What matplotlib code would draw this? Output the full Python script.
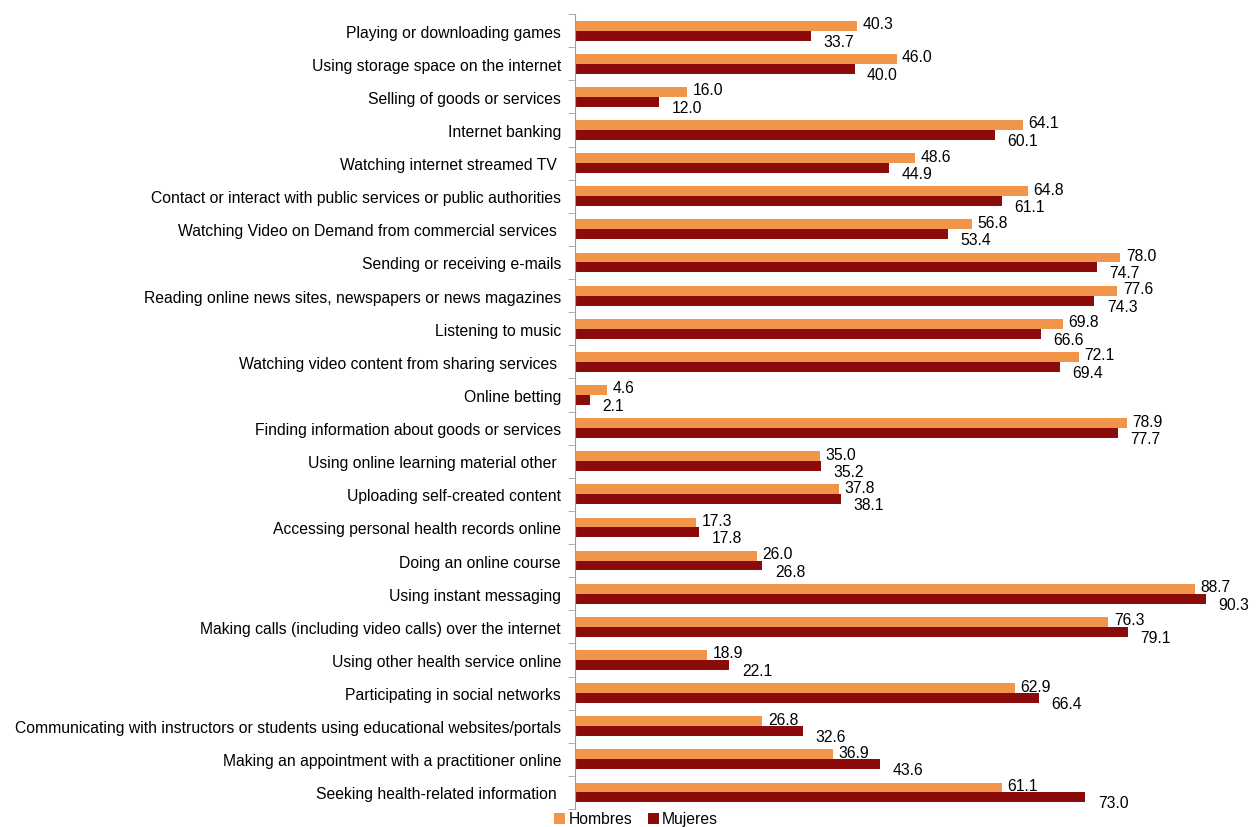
import numpy as np
import matplotlib.pyplot as plt

plt.rcParams['font.family'] = ['Liberation Sans', 'DejaVu Sans']

categories = [
    "Playing or downloading games",
    "Using storage space on the internet",
    "Selling of goods or services",
    "Internet banking",
    "Watching internet streamed TV ",
    "Contact or interact with public services or public authorities",
    "Watching Video on Demand from commercial services ",
    "Sending or receiving e-mails",
    "Reading online news sites, newspapers or news magazines",
    "Listening to music",
    "Watching video content from sharing services ",
    "Online betting",
    "Finding information about goods or services",
    "Using online learning material other ",
    "Uploading self-created content",
    "Accessing personal health records online",
    "Doing an online course",
    "Using instant messaging",
    "Making calls (including video calls) over the internet",
    "Using other health service online",
    "Participating in social networks",
    "Communicating with instructors or students using educational websites/portals",
    "Making an appointment with a practitioner online",
    "Seeking health-related information ",
]
hombres = [40.3, 46.0, 16.0, 64.1, 48.6, 64.8, 56.8, 78.0, 77.6, 69.8, 72.1, 4.6,
           78.9, 35.0, 37.8, 17.3, 26.0, 88.7, 76.3, 18.9, 62.9, 26.8, 36.9, 61.1]
mujeres = [33.7, 40.0, 12.0, 60.1, 44.9, 61.1, 53.4, 74.7, 74.3, 66.6, 69.4, 2.1,
           77.7, 35.2, 38.1, 17.8, 26.8, 90.3, 79.1, 22.1, 66.4, 32.6, 43.6, 73.0]

c_h = '#F0954A'
c_m = '#8B0A0A'
fs = 11.3

fig = plt.figure(figsize=(12.58, 8.28), dpi=100)
ax = fig.add_axes([575/1258, 1 - 810/828, 1 - 575/1258, 795/828])

y = np.arange(len(categories))
h = 0.3
ax.barh(y - h/2, hombres, height=h, color=c_h, label='Hombres')
ax.barh(y + h/2, mujeres, height=h, color=c_m, label='Mujeres')

for i in range(len(categories)):
    ax.annotate(f"{hombres[i]:.1f}", (hombres[i], y[i] - h/2), xytext=(4, 1.5),
                textcoords='offset points', ha='left', va='center', fontsize=fs)
    ax.annotate(f"{mujeres[i]:.1f}", (mujeres[i], y[i] + h/2), xytext=(9, -4),
                textcoords='offset points', ha='left', va='center', fontsize=fs)

ax.set_ylim(len(categories) - 0.5, -0.5)
ax.set_xlim(0, 683/6.99)
ax.set_yticks(y)
ax.set_yticklabels(categories, fontsize=fs)
ax.set_yticks(np.arange(-0.5, len(categories)), minor=True)
ax.tick_params(axis='y', which='major', length=0, pad=10)
ax.tick_params(axis='y', which='minor', length=5, color='#A0A0A0', direction='out')
ax.set_xticks([])
for s in ['top', 'right', 'bottom']:
    ax.spines[s].set_visible(False)
ax.spines['left'].set_color('#A0A0A0')

fig.legend(loc='center', bbox_to_anchor=(636/1258, 1 - 820/828), ncol=2, frameon=False,
           fontsize=fs, handlelength=0.7, handleheight=0.7, handletextpad=0.2,
           columnspacing=1.0, borderpad=0)

fig.savefig('out.png', dpi=100)
